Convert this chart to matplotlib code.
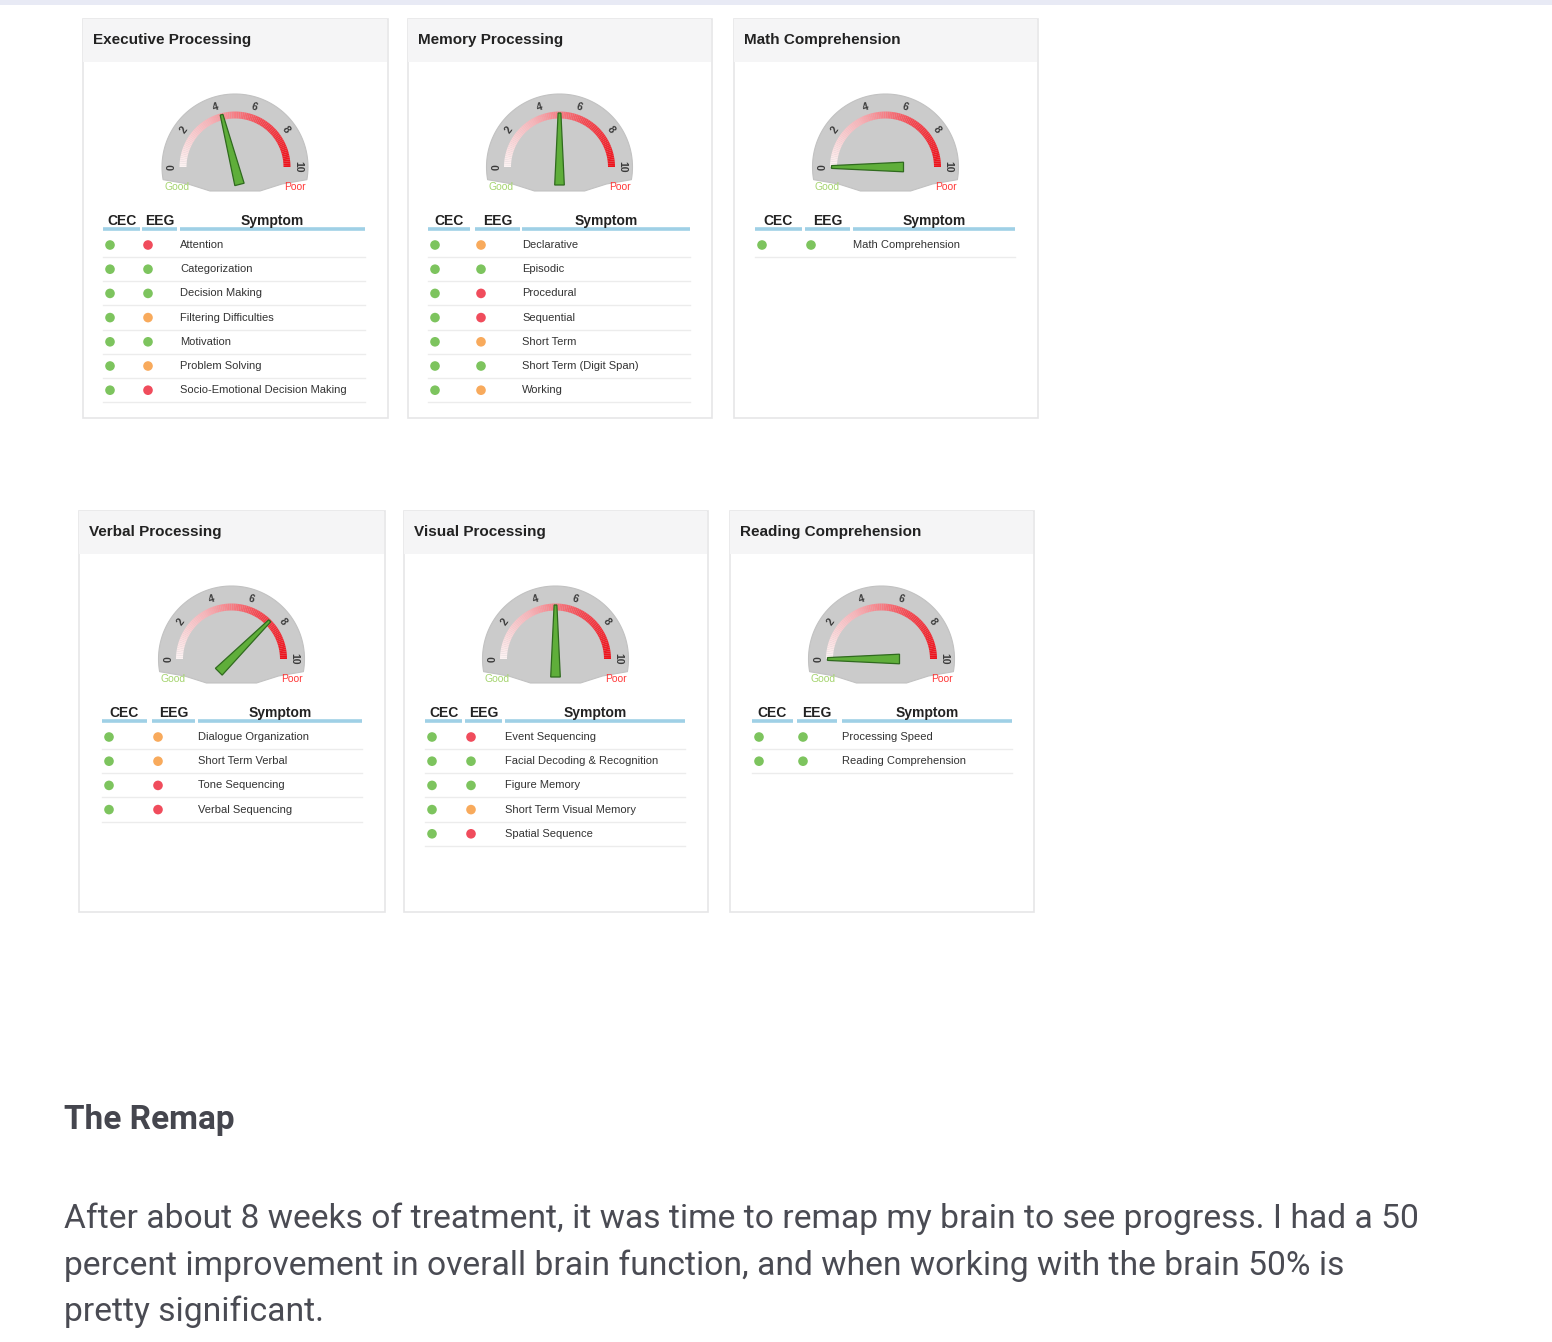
import numpy as np
import matplotlib.pyplot as plt
from matplotlib.patches import Rectangle, Circle, Polygon
from matplotlib.collections import PolyCollection
from matplotlib.colors import LinearSegmentedColormap

W, H = 1552, 1342

# ---- data ----
titles = ["Executive Processing", "Memory Processing", "Math Comprehension",
          "Verbal Processing", "Visual Processing", "Reading Comprehension"]
gauge_values = [4.2, 5.0, 0.0, 7.5, 5.0, 0.0]

exec_symptoms = ["Attention", "Categorization", "Decision Making", "Filtering Difficulties",
                 "Motivation", "Problem Solving", "Socio-Emotional Decision Making"]
exec_cec = ["g", "g", "g", "g", "g", "g", "g"]
exec_eeg = ["r", "g", "g", "o", "g", "o", "r"]

memory_symptoms = ["Declarative", "Episodic", "Procedural", "Sequential", "Short Term",
                   "Short Term (Digit Span)", "Working"]
memory_cec = ["g", "g", "g", "g", "g", "g", "g"]
memory_eeg = ["o", "g", "r", "r", "o", "g", "o"]

math_symptoms = ["Math Comprehension"]
math_cec = ["g"]
math_eeg = ["g"]

verbal_symptoms = ["Dialogue Organization", "Short Term Verbal", "Tone Sequencing", "Verbal Sequencing"]
verbal_cec = ["g", "g", "g", "g"]
verbal_eeg = ["o", "o", "r", "r"]

visual_symptoms = ["Event Sequencing", "Facial Decoding & Recognition", "Figure Memory",
                   "Short Term Visual Memory", "Spatial Sequence"]
visual_cec = ["g", "g", "g", "g", "g"]
visual_eeg = ["r", "g", "g", "o", "r"]

reading_symptoms = ["Processing Speed", "Reading Comprehension"]
reading_cec = ["g", "g"]
reading_eeg = ["g", "g"]

symptoms = [exec_symptoms, memory_symptoms, math_symptoms, verbal_symptoms, visual_symptoms, reading_symptoms]
cec = [exec_cec, memory_cec, math_cec, verbal_cec, visual_cec, reading_cec]
eeg = [exec_eeg, memory_eeg, math_eeg, verbal_eeg, visual_eeg, reading_eeg]

heading = "The Remap"
paragraph = ["After about 8 weeks of treatment, it was time to remap my brain to see progress. I had a 50",
             "percent improvement in overall brain function, and when working with the brain 50% is",
             "pretty significant."]

# ---- layout (pixels) ----
card_boxes = [(82, 18, 306, 400), (407, 18, 305, 400), (733, 18, 305, 400),
              (78, 510, 307, 402), (403, 510, 305, 402), (729, 510, 305, 402)]
col_segments = [[(21, 58), (60, 95), (98, 283)],
                [(21, 63), (68, 113), (115, 283)],
                [(22, 69), (72, 117), (120, 282)],
                [(24, 69), (74, 117), (120, 284)],
                [(22, 59), (62, 99), (102, 282)],
                [(23, 64), (68, 108), (113, 283)]]

status_colors = {"g": "#7dc45e", "o": "#f8aa5c", "r": "#f04c5c"}
band_cmap = LinearSegmentedColormap.from_list("band", ["#fdf4f4", "#f8b3b8", "#f4464f", "#ee1019"])
card_font = ["Liberation Sans", "DejaVu Sans"]

fig = plt.figure(figsize=(W / 100, H / 100), dpi=100)
bg = fig.add_axes([0, 0, 1, 1])
bg.set_xlim(0, W)
bg.set_ylim(H, 0)
bg.axis("off")
bg.add_patch(Rectangle((0, 0), W, 5, fc="#e8eaf5", ec="none"))


def draw_card(k):
    x0, y0, w, h = card_boxes[k]
    ax = fig.add_axes([x0 / W, 1 - (y0 + h) / H, w / W, h / H])
    ax.set_xlim(0, w)
    ax.set_ylim(h, 0)
    ax.axis("off")

    ax.add_patch(Rectangle((0.5, 0.5), w - 1, h - 1, fc="white", ec="#e6e6e8", lw=1.2, clip_on=False))
    ax.add_patch(Rectangle((1, 1), w - 2, 43, fc="#f5f5f6", ec="none", clip_on=False))
    ax.text(11, 22, titles[k], fontsize=11, fontweight="bold", color="#222222",
            va="center", family=card_font)

    # gauge
    cx, cy = w / 2, 149

    def pt(theta, r):
        t = np.radians(theta)
        return cx + r * np.cos(t), cy - r * np.sin(t)

    shell = [pt(a, 73) for a in np.linspace(-10, 190, 80)]
    shell += [(cx - 47, cy + 17), (cx - 25, cy + 24), (cx + 25, cy + 24), (cx + 47, cy + 17)]
    ax.add_patch(Polygon(shell, closed=True, fc="#cbcbcb", ec="#c2c2c2", lw=0.8))

    n = 90
    edges = np.linspace(0, 10, n + 1)
    segs = []
    for a, b in zip(edges[:-1], edges[1:]):
        t0, t1 = 180 - 18 * a, 180 - 18 * b
        segs.append([pt(t0, 48.5), pt(t1, 48.5), pt(t1, 55.5), pt(t0, 55.5)])
    ax.add_collection(PolyCollection(segs, facecolors=band_cmap((edges[:-1] + 0.05) / 10),
                                     edgecolors="none"))

    for v in range(0, 11, 2):
        t = 180 - 18 * v
        px, py = pt(t, 63)
        ax.text(px, py, str(v), fontsize=7.5, fontweight="bold", color="#3a3a3a",
                ha="center", va="center", rotation=t - 90, family=card_font)

    ax.text(cx - 58, cy + 20, "Good", fontsize=7.5, color="#a5d46f", ha="center", va="center",
            family=card_font)
    ax.text(cx + 60, cy + 20, "Poor", fontsize=7.5, color="#ff3838", ha="center", va="center",
            family=card_font)

    t = np.radians(180 - 18 * gauge_values[k])
    u = np.array([np.cos(t), -np.sin(t)])
    nv = np.array([np.sin(t), np.cos(t)])
    c = np.array([cx, cy])
    needle = [c + 54 * u + 1.4 * nv, c + 54 * u - 1.4 * nv, c - 18 * u - 4.8 * nv, c - 18 * u + 4.8 * nv]
    ax.add_patch(Polygon(needle, closed=True, fc="#5fae3a", ec="#2f6a1e", lw=0.9))

    # table
    segc = col_segments[k]
    for (s0, s1), label in zip(segc, ["CEC", "EEG", "Symptom"]):
        ax.plot([s0, s1], [211, 211], color="#9fd0e6", lw=2.6, solid_capstyle="butt")
        ax.text((s0 + s1) / 2, 203, label, fontsize=10, fontweight="bold", color="#222222",
                ha="center", va="center", family=card_font)

    for i, name in enumerate(symptoms[k]):
        y = 227 + i * 24.2
        ax.add_patch(Circle((segc[0][0] + 7, y), 4.8, fc=status_colors[cec[k][i]], ec="none"))
        ax.add_patch(Circle((segc[1][0] + 6, y), 4.8, fc=status_colors[eeg[k][i]], ec="none"))
        ax.text(segc[2][0], y, name, fontsize=8, color="#333333", va="center", family=card_font)
        ax.plot([segc[0][0], segc[2][1]], [y + 12, y + 12], color="#ececec", lw=1)


for k in range(len(titles)):
    draw_card(k)

bg.text(64, 1129, heading, fontsize=24, fontweight="bold", color="#45464e",
        family=["Roboto", "DejaVu Sans"], va="baseline")
for i, line in enumerate(paragraph):
    bg.text(64, 1228 + i * 46.5, line, fontsize=24.2, color="#4a4b53",
            family=["Roboto", "DejaVu Sans"], va="baseline")

fig.savefig("out.png", dpi=100, facecolor="white")
